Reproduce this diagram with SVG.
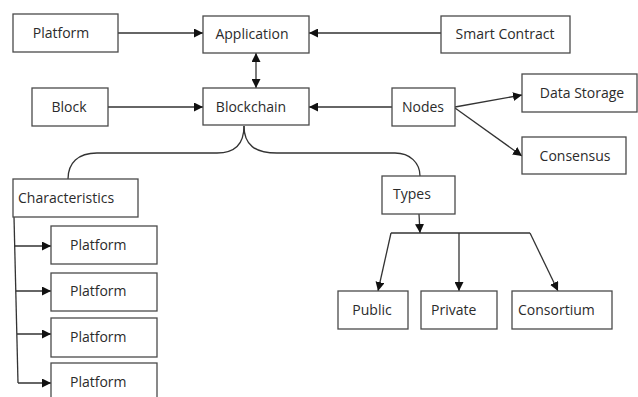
<svg xmlns="http://www.w3.org/2000/svg" width="638" height="397" viewBox="0 0 638 397">
  <style>
    .box { fill: #ffffff; stroke: #4a4a4a; stroke-width: 1.3; }
    .lbl { font-family: "Open Sans", "Noto Sans", "DejaVu Sans", sans-serif; font-size: 14px; fill: #2b2b2b; }
    .c { text-anchor: middle; }
    .line { fill: none; stroke: #333333; stroke-width: 1.3; }
  </style>
  <defs>
    <marker id="arrow" viewBox="0 0 10 10" refX="10" refY="5" markerWidth="9" markerHeight="9" markerUnits="userSpaceOnUse" orient="auto-start-reverse">
      <path d="M0,0 L10,5 L0,10 Z" fill="#111111"/>
    </marker>
  </defs>
  <rect width="638" height="397" fill="#ffffff"/>

  <g id="connectors">
    <line class="line" x1="118" y1="33" x2="203" y2="33" marker-end="url(#arrow)"/>
    <line class="line" x1="441" y1="33" x2="309" y2="33" marker-end="url(#arrow)"/>
    <line class="line" x1="256" y1="53" x2="256" y2="88" marker-start="url(#arrow)" marker-end="url(#arrow)"/>
    <line class="line" x1="108" y1="107" x2="203" y2="107" marker-end="url(#arrow)"/>
    <line class="line" x1="392" y1="107" x2="309" y2="107" marker-end="url(#arrow)"/>
    <line class="line" x1="455" y1="107" x2="522" y2="95" marker-end="url(#arrow)"/>
    <line class="line" x1="455" y1="108" x2="522" y2="156" marker-end="url(#arrow)"/>
    <!-- brace splitting Blockchain into Characteristics and Types -->
    <path class="line" d="M244,126 C244,145 234,153 217,153 L97,153 C78,153 68,163 68,179"/>
    <path class="line" d="M244,126 C244,145 255,153 277,153 L395,153 C410,153 420,163 420,176"/>
    <!-- Characteristics list -->
    <line class="line" x1="14" y1="217" x2="18" y2="383"/>
    <line class="line" x1="14" y1="246" x2="51" y2="246" marker-end="url(#arrow)"/>
    <line class="line" x1="16" y1="291" x2="51" y2="291" marker-end="url(#arrow)"/>
    <line class="line" x1="17" y1="334" x2="51" y2="334" marker-end="url(#arrow)"/>
    <line class="line" x1="18" y1="383" x2="51" y2="383" marker-end="url(#arrow)"/>
    <!-- Types fan-out -->
    <line class="line" x1="419" y1="214" x2="420" y2="233" marker-end="url(#arrow)"/>
    <line class="line" x1="391" y1="233" x2="530" y2="233"/>
    <line class="line" x1="391" y1="233" x2="378" y2="291" marker-end="url(#arrow)"/>
    <line class="line" x1="459" y1="233" x2="459" y2="291" marker-end="url(#arrow)"/>
    <line class="line" x1="530" y1="233" x2="558" y2="291" marker-end="url(#arrow)"/>
  </g>

  <g id="platform-top">
    <rect class="box" x="13" y="14" width="105" height="38"/>
    <text class="lbl c" x="61" y="38">Platform</text>
  </g>
  <g id="application">
    <rect class="box" x="203" y="16" width="106" height="37"/>
    <text class="lbl c" x="252" y="39">Application</text>
  </g>
  <g id="smart-contract">
    <rect class="box" x="441" y="16" width="129" height="37"/>
    <text class="lbl c" x="505" y="39">Smart Contract</text>
  </g>
  <g id="block">
    <rect class="box" x="32" y="88" width="76" height="38"/>
    <text class="lbl c" x="69" y="112">Block</text>
  </g>
  <g id="blockchain">
    <rect class="box" x="203" y="88" width="106" height="37"/>
    <text class="lbl c" x="251" y="112">Blockchain</text>
  </g>
  <g id="nodes">
    <rect class="box" x="392" y="88" width="63" height="38"/>
    <text class="lbl c" x="423" y="112">Nodes</text>
  </g>
  <g id="data-storage">
    <rect class="box" x="522" y="74" width="115" height="38"/>
    <text class="lbl c" x="582" y="98">Data Storage</text>
  </g>
  <g id="consensus">
    <rect class="box" x="522" y="137" width="104" height="37"/>
    <text class="lbl c" x="575" y="161">Consensus</text>
  </g>
  <g id="characteristics">
    <rect class="box" x="13" y="179" width="125" height="38"/>
    <text class="lbl" x="18" y="203">Characteristics</text>
  </g>
  <g id="platform-1">
    <rect class="box" x="51" y="226" width="106" height="38"/>
    <text class="lbl" x="70" y="250">Platform</text>
  </g>
  <g id="platform-2">
    <rect class="box" x="51" y="273" width="106" height="38"/>
    <text class="lbl" x="70" y="296">Platform</text>
  </g>
  <g id="platform-3">
    <rect class="box" x="51" y="318" width="106" height="39"/>
    <text class="lbl" x="70" y="342">Platform</text>
  </g>
  <g id="platform-4">
    <rect class="box" x="51" y="363" width="106" height="40"/>
    <text class="lbl" x="70" y="387">Platform</text>
  </g>
  <g id="types">
    <rect class="box" x="382" y="176" width="73" height="38"/>
    <text class="lbl" x="393" y="199">Types</text>
  </g>
  <g id="public">
    <rect class="box" x="338" y="291" width="70" height="38"/>
    <text class="lbl c" x="372" y="315">Public</text>
  </g>
  <g id="private">
    <rect class="box" x="421" y="291" width="76" height="38"/>
    <text class="lbl" x="431" y="315">Private</text>
  </g>
  <g id="consortium">
    <rect class="box" x="512" y="291" width="100" height="38"/>
    <text class="lbl" x="518" y="315">Consortium</text>
  </g>
</svg>
